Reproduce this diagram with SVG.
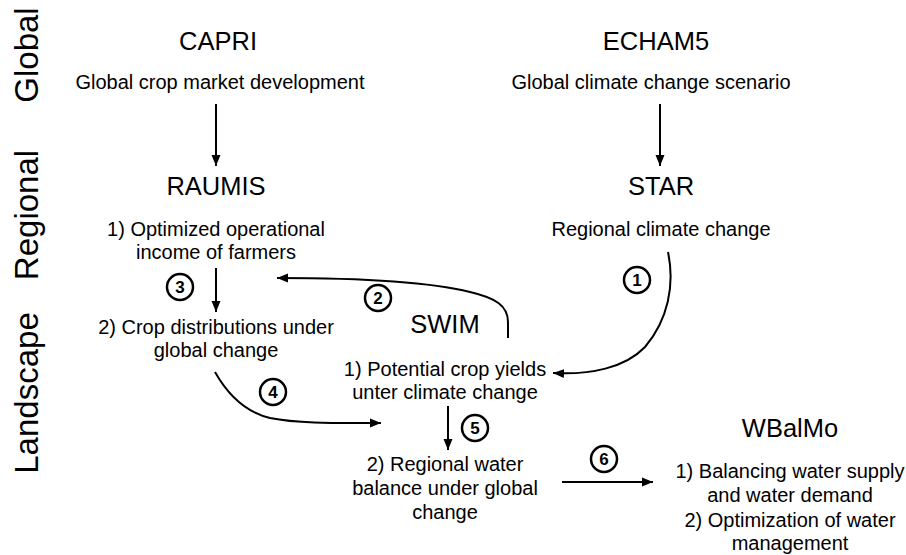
<svg xmlns="http://www.w3.org/2000/svg" width="906" height="555" viewBox="0 0 906 555">
<style>
text{font-family:"Liberation Sans",Arial,sans-serif;fill:#000;text-anchor:middle}
.side{font-size:33px}
.title{font-size:25.5px}
.body{font-size:20px}
.conn path{fill:none;stroke:#000;stroke-width:2;marker-end:url(#ah)}
.num circle{fill:#fff;stroke:#000;stroke-width:2.5}
.num text{font-size:17px;font-weight:bold}
</style>
<defs>
<marker id="ah" markerUnits="userSpaceOnUse" markerWidth="12" markerHeight="10" refX="11" refY="5" orient="auto">
<path d="M0,0.5 L11,5 L0,9.5 Z" fill="#000"/>
</marker>
</defs>
<rect width="906" height="555" fill="#fff"/>
<g id="scales">
<text class="side" transform="translate(38,55) rotate(-90)">Global</text>
<text class="side" transform="translate(38,215) rotate(-90)">Regional</text>
<text class="side" transform="translate(38,393) rotate(-90)">Landscape</text>
</g>
<g id="capri">
<text class="title" x="218" y="50">CAPRI</text>
<text class="body" x="220" y="89">Global crop market development</text>
</g>
<g id="echam5">
<text class="title" x="656" y="50">ECHAM5</text>
<text class="body" x="651" y="89">Global climate change scenario</text>
</g>
<g id="raumis">
<text class="title" x="216" y="195">RAUMIS</text>
<text class="body" x="216" y="236">1) Optimized operational</text>
<text class="body" x="216" y="259">income of farmers</text>
</g>
<g id="crop-distributions">
<text class="body" x="216" y="334">2) Crop distributions under</text>
<text class="body" x="216" y="357">global change</text>
</g>
<g id="star">
<text class="title" x="661" y="195">STAR</text>
<text class="body" x="661" y="236">Regional climate change</text>
</g>
<g id="swim">
<text class="title" x="445" y="333">SWIM</text>
<text class="body" x="445" y="376">1) Potential crop yields</text>
<text class="body" x="445" y="399">unter climate change</text>
</g>
<g id="water-balance">
<text class="body" x="445" y="471">2) Regional water</text>
<text class="body" x="445" y="495">balance under global</text>
<text class="body" x="445" y="519">change</text>
</g>
<g id="wbalmo">
<text class="title" x="790" y="437">WBalMo</text>
<text class="body" x="790" y="478">1) Balancing water supply</text>
<text class="body" x="790" y="502">and water demand</text>
<text class="body" x="790" y="527">2) Optimization of water</text>
<text class="body" x="790" y="550">management</text>
</g>
<g id="connectors" class="conn">
<path d="M216,104 V166"/>
<path d="M660,104 V166"/>
<path d="M216,268 V312"/>
<path d="M448,406 V450"/>
<path d="M562,482 H653"/>
<path d="M668,252 C675,285 668,320 645,347 C625,368 590,375 553,373"/>
<path d="M508,338 L508,322 C508,306 496,298 470,292 C430,282 360,278 277,278"/>
<path d="M215,372 C228,395 245,412 270,418 C300,424 340,423 381,423"/>
</g>
<g id="step-numbers" class="num">
<g id="n1"><circle cx="637" cy="280" r="13"/><text x="637" y="286">1</text></g>
<g id="n2"><circle cx="378" cy="298" r="13"/><text x="378" y="304">2</text></g>
<g id="n3"><circle cx="180" cy="287" r="13"/><text x="180" y="293">3</text></g>
<g id="n4"><circle cx="273" cy="392" r="13"/><text x="273" y="398">4</text></g>
<g id="n5"><circle cx="475" cy="428" r="13"/><text x="475" y="434">5</text></g>
<g id="n6"><circle cx="604" cy="459" r="13"/><text x="604" y="465">6</text></g>
</g>
</svg>
